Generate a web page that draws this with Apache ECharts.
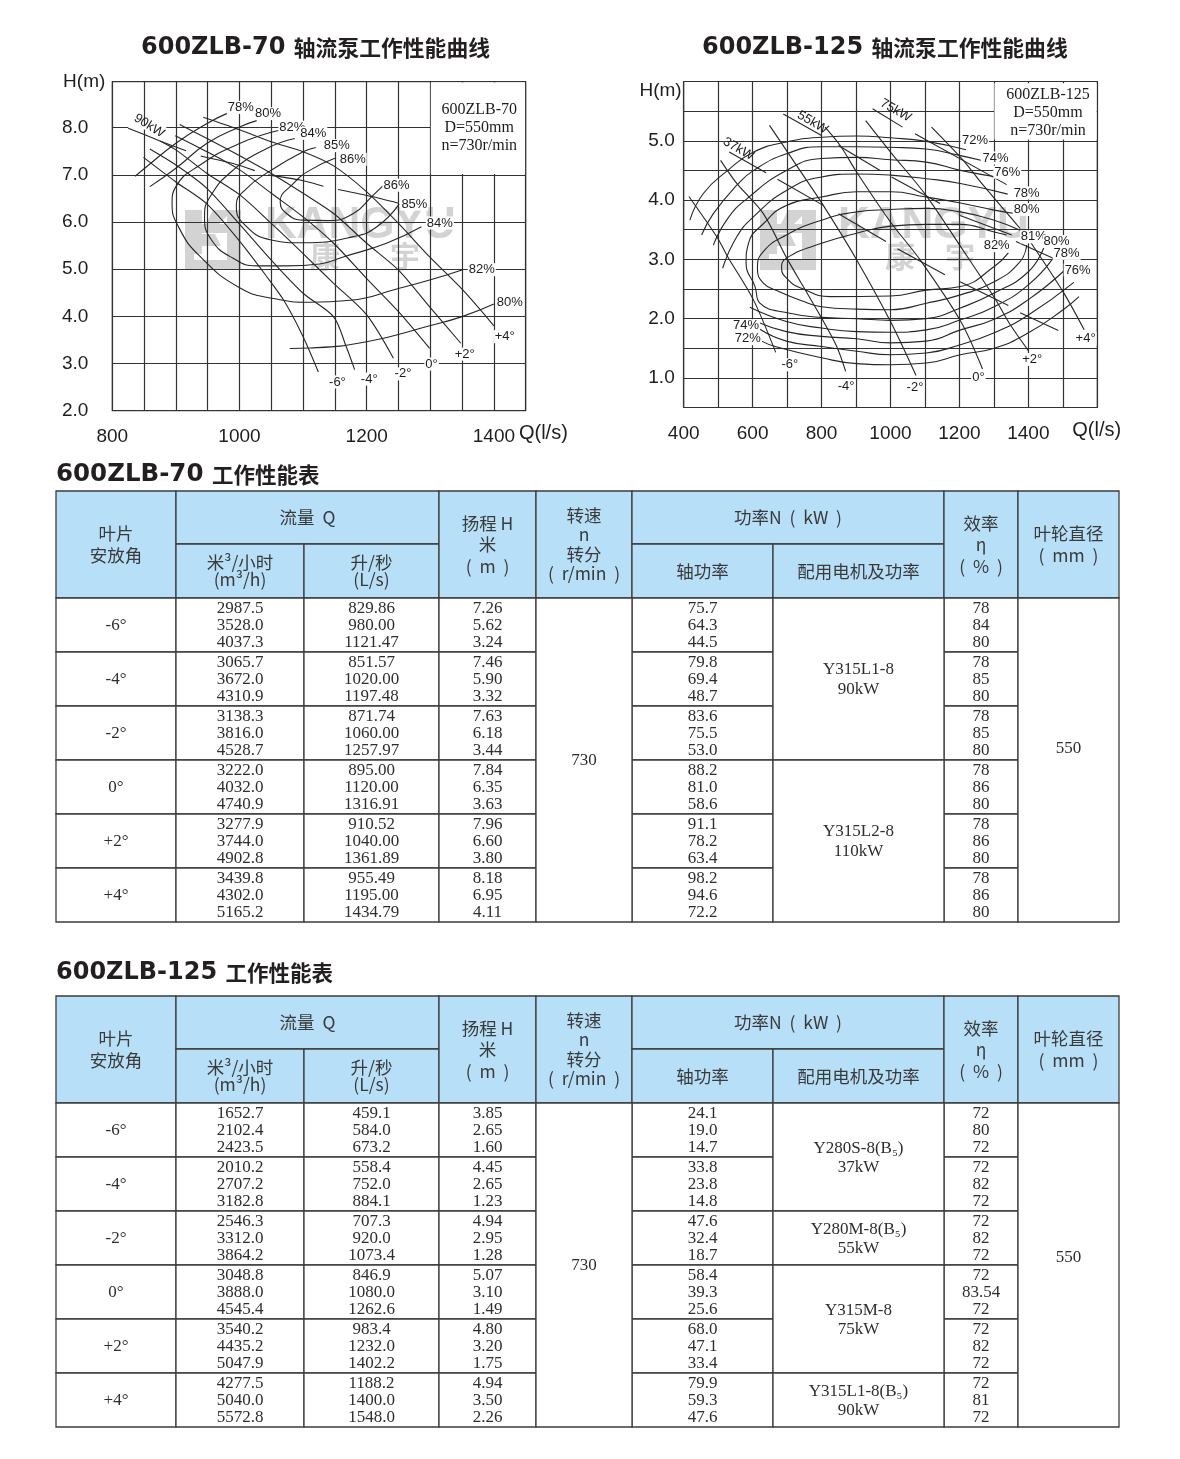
<!DOCTYPE html>
<html>
<head>
<meta charset="utf-8">
<style>html,body{margin:0;padding:0;background:#fff}#c{width:1180px;height:1459px}</style>
<script src="https://cdn.jsdelivr.net/npm/echarts@6/dist/echarts.min.js"></script>
</head>
<body>
<div id="c"></div>
<script>
// ---------- 600ZLB-70 curves: [Q l/s, H m] ----------
const a70m6 = [[849,7.37],[900,6.85],[949,6.38],[1001,5.58],[1043,4.84],[1071,4.31],[1100,3.57],[1124,2.82]];
const a70m4 = [[859,7.55],[900,7.21],[949,6.71],[1001,5.94],[1050,5.19],[1100,4.49],[1148,3.99],[1168,3.35],[1181,2.87]];
const a70m2 = [[875,7.72],[900,7.53],[949,7.03],[1001,6.57],[1050,5.97],[1100,5.33],[1148,4.70],[1200,4.03],[1242,3.11]];
const a70z0 = [[899,7.83],[949,7.49],[1001,7.10],[1050,6.61],[1100,6.11],[1148,5.55],[1200,4.80],[1250,4.10],[1299,3.32]];
const a70p2 = [[906,8.07],[949,7.77],[1001,7.40],[1050,7.03],[1100,6.61],[1148,6.18],[1200,5.55],[1250,4.98],[1299,4.20],[1348,3.43]];
const a70p4 = [[943,8.22],[1001,7.95],[1050,7.70],[1100,7.49],[1148,7.19],[1200,6.64],[1250,5.97],[1299,5.26],[1351,4.56],[1400,3.80]];
const e70_86 = [[1150,7.35],[1111,7.10],[1085,6.82],[1064,6.43],[1074,6.18],[1100,6.04],[1140,6.03],[1179,6.18],[1208,6.54],[1225,6.76]];
const e70_85 = [[1120,7.58],[1100,7.49],[1050,7.10],[1011,6.71],[995,6.36],[1006,5.97],[1050,5.62],[1100,5.56],[1179,5.69],[1216,5.90],[1251,6.38]];
const e70_84 = [[1087,7.77],[1043,7.56],[990,7.10],[954,6.54],[945,6.11],[956,5.62],[990,5.23],[1027,5.07],[1074,5.07],[1126,5.11],[1163,5.26],[1231,5.55],[1286,5.90]];
const e70_82 = [[1064,7.95],[1001,7.67],[938,7.21],[900,6.75],[894,6.40],[904,5.90],[938,5.27],[1001,4.60],[1053,4.38],[1111,4.30],[1174,4.34],[1250,4.59],[1299,4.77],[1351,4.99]];
const e70_80a = [[1027,8.15],[1001,8.02],[949,7.67],[900,7.14],[859,6.75]];
const e70_80b = [[1079,3.32],[1111,3.33],[1200,3.46],[1299,3.80],[1351,4.00],[1400,4.26]];
const e70_78 = [[985,8.33],[949,8.09],[900,7.67],[851,7.14],[836,6.97]];
const p70_90a = [[825,7.99],[875,7.72],[916,7.51]];
const p70_90b = [[939,7.40],[990,7.24],[1024,7.09]];
const p70_90c = [[1045,7.00],[1095,6.89],[1132,6.76]];
const p70_90d = [[1155,6.69],[1208,6.54],[1250,6.40]];
const labels70 = [[1002,8.43,'78%'],[1045,8.30,'80%'],[1083,8.01,'82%'],[1116,7.88,'84%'],[1153,7.62,'85%'],[1178,7.33,'86%'],
  [1247,6.78,'86%'],[1275,6.38,'85%'],[1315,5.98,'84%'],[1381,4.99,'82%'],[1425,4.29,'80%'],
  [1154,2.61,'-6°'],[1204,2.67,'-4°'],[1257,2.78,'-2°'],[1302,2.99,'0°'],[1354,3.20,'+2°'],[1417,3.57,'+4°']];
const tilted70 = [[858,8.04,'90kW']];
const note70 = [[1377,8.0,'600ZLB-70\nD=550mm\nn=730r/min']];
const mask70 = [[1300.8,7.02,1449,8.96],[825,7.96,885,8.04]];
const qTicks70 = [800,1000,1200,1400];
const hTicks70 = [2,3,4,5,6,7,8];

// ---------- 600ZLB-125 curves ----------
const a125m6 = [[415,4.06],[496,3.38],[528,3.04],[602,2.32],[667,1.43]];
const a125m4 = [[507,4.67],[554,4.28],[631,3.77],[699,3.02],[747,2.54],[800,2.01],[844,1.53],[870,1.11]];
const a125m2 = [[649,5.26],[737,4.50],[805,3.91],[902,2.99],[1000,1.95],[1074,1.04]];
const a125z0 = [[810,5.23],[854,4.92],[902,4.47],[1000,3.63],[1086,2.99],[1204,1.95],[1267,1.15]];
const a125p2 = [[928,5.34],[1000,4.81],[1103,4.08],[1204,3.21],[1303,2.34],[1347,1.90],[1400,1.46]];
const a125p4a = [[1119,5.23],[1211,4.67],[1269,4.25],[1376,3.52]];
const a125p4b = [[1405,3.30],[1503,2.43],[1562,1.81]];
const e125_72a = [[418,3.66],[457,4.11],[528,4.50],[603,4.81],[698,4.98],[800,5.06],[902,5.08],[1000,5.05],[1104,4.99],[1219,4.85]];
const e125_72b = [[626,1.62],[665,1.53],[800,1.34],[902,1.24],[1000,1.22],[1104,1.25],[1203,1.39],[1301,1.50],[1400,1.76],[1501,2.15],[1547,2.37]];
const e125_74a = [[452,3.41],[486,3.77],[554,4.25],[603,4.50],[698,4.78],[800,4.90],[902,4.90],[1000,4.89],[1104,4.86],[1203,4.75],[1262,4.67]];
const e125_74b = [[621,1.82],[698,1.62],[800,1.53],[902,1.45],[1000,1.39],[1104,1.42],[1203,1.56],[1301,1.76],[1400,2.06],[1532,2.61]];
const e125_76a = [[486,3.24],[528,3.69],[583,4.02],[698,4.50],[800,4.70],[902,4.72],[1000,4.68],[1104,4.64],[1203,4.50],[1308,4.39]];
const e125_76b = [[610,1.95],[698,1.78],[800,1.70],[902,1.66],[1000,1.59],[1104,1.62],[1203,1.81],[1301,1.99],[1400,2.32],[1506,2.82]];
const e125_78a = [[513,2.85],[554,3.38],[603,3.72],[698,4.16],[800,4.39],[902,4.44],[1000,4.42],[1104,4.36],[1203,4.28],[1340,4.10]];
const e125_78b = [[592,2.19],[698,1.95],[800,1.84],[902,1.78],[1000,1.77],[1104,1.81],[1203,1.98],[1301,2.20],[1400,2.57],[1472,3.02]];
const e125_80 = [[1366,3.77],[1301,3.83],[1203,3.95],[1104,4.05],[1000,4.14],[902,4.14],[800,4.05],[698,3.91],[631,3.60],[588,3.27],[581,2.93],[607,2.54],[621,2.26],[708,2.09],[800,2.02],[902,2.00],[1000,1.97],[1104,2.00],[1203,2.18],[1301,2.43],[1400,2.79],[1445,3.20]];
const e125_81 = [[1376,3.49],[1301,3.66],[1203,3.80],[1104,3.86],[1000,3.84],[902,3.80],[800,3.66],[698,3.41],[631,3.13],[614,2.85],[631,2.60],[679,2.45],[742,2.30],[800,2.20],[902,2.16],[1000,2.15],[1104,2.26],[1203,2.40],[1301,2.62],[1376,2.96],[1395,3.24]];
const e125_82 = [[1337,3.41],[1301,3.46],[1203,3.59],[1104,3.59],[1000,3.56],[902,3.44],[800,3.27],[698,3.02],[684,2.85],[704,2.65],[742,2.51],[825,2.37],[1000,2.38],[1104,2.48],[1203,2.54],[1301,2.88],[1342,3.11]];
const p125_37a = [[532,4.81],[639,4.46]];
const p125_37b = [[672,4.35],[805,3.91]];
const p125_37c = [[849,3.77],[987,3.30]];
const p125_37d = [[1020,3.18],[1158,2.74]];
const p125_37e = [[1202,2.62],[1342,2.22]];
const p125_37f = [[1376,2.10],[1487,1.80]];
const p125_55a = [[689,5.45],[800,5.09]];
const p125_55b = [[849,4.92],[970,4.50]];
const p125_55c = [[1003,4.39],[1144,3.94]];
const p125_55d = [[1202,3.74],[1352,3.41]];
const p125_55e = [[1364,3.30],[1472,3.02]];
const p125_75a = [[948,5.54],[1035,5.23]];
const p125_75b = [[1071,5.12],[1337,4.26]];
const labels125 = [[1245,5.00,'72%'],[1305,4.71,'74%'],[1339,4.47,'76%'],[1395,4.12,'78%'],[1395,3.84,'80%'],[1416,3.38,'81%'],
  [1482,3.30,'80%'],[1511,3.10,'78%'],[1543,2.82,'76%'],[1308,3.23,'82%'],[581,1.88,'74%'],[586,1.66,'72%'],
  [708,1.22,'-6°'],[871,0.85,'-4°'],[1071,0.84,'-2°'],[1255,1.00,'0°'],[1411,1.31,'+2°'],[1566,1.66,'+4°']];
const tilted125 = [[559,4.86,'37kW'],[774,5.31,'55kW'],[1015,5.51,'75kW']];
const note125 = [[1457,5.47,'600ZLB-125\nD=550mm\nn=730r/min']];
const mask125 = [[1301.5,5.02,1598,5.97]];
const qTicks125 = [400,600,800,1000,1200,1400];
const hTicks125 = [1,2,3,4,5];

// ---------- tables ----------
const angles = ['-6°','-4°','-2°','0°','+2°','+4°'];
const t70QM3 = [['2987.5','3528.0','4037.3'],['3065.7','3672.0','4310.9'],['3138.3','3816.0','4528.7'],['3222.0','4032.0','4740.9'],['3277.9','3744.0','4902.8'],['3439.8','4302.0','5165.2']];
const t70QLs = [['829.86','980.00','1121.47'],['851.57','1020.00','1197.48'],['871.74','1060.00','1257.97'],['895.00','1120.00','1316.91'],['910.52','1040.00','1361.89'],['955.49','1195.00','1434.79']];
const t70H = [['7.26','5.62','3.24'],['7.46','5.90','3.32'],['7.63','6.18','3.44'],['7.84','6.35','3.63'],['7.96','6.60','3.80'],['8.18','6.95','4.11']];
const t70N = [['75.7','64.3','44.5'],['79.8','69.4','48.7'],['83.6','75.5','53.0'],['88.2','81.0','58.6'],['91.1','78.2','63.4'],['98.2','94.6','72.2']];
const t70Eff = [['78','84','80'],['78','85','80'],['78','85','80'],['78','86','80'],['78','86','80'],['78','86','80']];
const t70Motors = [[0,3,'Y315L1-8\n90kW'],[3,6,'Y315L2-8\n110kW']];
const t125QM3 = [['1652.7','2102.4','2423.5'],['2010.2','2707.2','3182.8'],['2546.3','3312.0','3864.2'],['3048.8','3888.0','4545.4'],['3540.2','4435.2','5047.9'],['4277.5','5040.0','5572.8']];
const t125QLs = [['459.1','584.0','673.2'],['558.4','752.0','884.1'],['707.3','920.0','1073.4'],['846.9','1080.0','1262.6'],['983.4','1232.0','1402.2'],['1188.2','1400.0','1548.0']];
const t125H = [['3.85','2.65','1.60'],['4.45','2.65','1.23'],['4.94','2.95','1.28'],['5.07','3.10','1.49'],['4.80','3.20','1.75'],['4.94','3.50','2.26']];
const t125N = [['24.1','19.0','14.7'],['33.8','23.8','14.8'],['47.6','32.4','18.7'],['58.4','39.3','25.6'],['68.0','47.1','33.4'],['79.9','59.3','47.6']];
const t125Eff = [['72','80','72'],['72','82','72'],['72','82','72'],['72','83.54','72'],['72','82','72'],['72','81','72']];
const t125Motors = [[0,2,'Y280S-8(B₅)\n37kW'],[2,3,'Y280M-8(B₅)\n55kW'],[3,5,'Y315M-8\n75kW'],[5,6,'Y315L1-8(B₅)\n90kW']];
const speedText = '730';
const impellerText = '550';

// layout of tables (not data)
const colEdges = [0,120,248,383,480,576,717,888,962,1063];
const rowEdges = [0,53,107,161,215,269,323,377,431];
const HEAD = '#b7e0f8', LINE = '#3c3c3c', INK = '#2e2e2e';
const CJK = '"Noto Sans CJK SC","Noto Sans",sans-serif';
const SERIF = '"Liberation Serif",serif';
const SANS = '"Liberation Sans",sans-serif';

function buildCells(qm3, qls, h, n, eff, motors, implDy, motorLh) {
  const cells = [];
  const head = (c0,c1,r0,r1,text,lh) => cells.push({c0,c1,r0,r1,text,lh:lh||20,head:true,dy:0});
  head(0,1,0,2,'叶片\n安放角',22);
  head(1,3,0,1,'流量  Q');
  head(1,2,1,2,'米³/小时\n(m³/h)',17);
  head(2,3,1,2,'升/秒\n(L/s)',17);
  head(3,4,0,2,'扬程 H\n米\n(  m  )',21.5);
  head(4,5,0,2,'转速\nn\n转分\n(  r/min  )',19.5);
  head(5,7,0,1,'功率N  (  kW  )');
  head(5,6,1,2,'轴功率');
  head(6,7,1,2,'配用电机及功率');
  head(7,8,0,2,'效率\nη\n(  %  )',21.5);
  head(8,9,0,2,'叶轮直径\n(  mm  )',22);
  const body = (c0,c1,r0,r1,text,lh,dy) => cells.push({c0,c1,r0:r0+2,r1:r1+2,text,lh:lh||16.8,head:false,dy:dy===undefined?0.6:dy});
  angles.forEach((a,i) => {
    body(0,1,i,i+1,a);
    body(1,2,i,i+1,qm3[i].join('\n'));
    body(2,3,i,i+1,qls[i].join('\n'));
    body(3,4,i,i+1,h[i].join('\n'));
    body(5,6,i,i+1,n[i].join('\n'));
    body(7,8,i,i+1,eff[i].join('\n'));
  });
  body(4,5,0,6,speedText);
  motors.forEach(m => body(6,7,m[0],m[1],m[2],motorLh,1));
  body(8,9,0,6,impellerText,16.8,implDy);
  return cells;
}

function tableSeries(cells, idx) {
  return {
    type:'custom', name:'table'+idx, xAxisIndex:idx, yAxisIndex:idx, silent:true, clip:false, z:1,
    encode:{x:[0,2],y:[1,3]},
    data: cells.map((c,i) => [colEdges[c.c0],rowEdges[c.r0],colEdges[c.c1],rowEdges[c.r1],i]),
    renderItem:(p,api) => {
      const c = cells[api.value(4)];
      const a = api.coord([api.value(0),api.value(1)]);
      const b = api.coord([api.value(2),api.value(3)]);
      return {type:'group',children:[
        {type:'rect',shape:{x:a[0],y:a[1],width:b[0]-a[0],height:b[1]-a[1]},
         style:{fill:c.head?HEAD:'#fff',stroke:LINE,lineWidth:1.3}},
        {type:'text',z2:5,style:{text:c.text,x:(a[0]+b[0])/2,y:(a[1]+b[1])/2+c.dy,align:'center',verticalAlign:'middle',
          fontFamily:c.head?CJK:SERIF,fontSize:c.head?17.5:17,lineHeight:c.lh,fill:c.head?'#3a3a3a':INK}}
      ]};
    }
  };
}

function curve(name,data,g,smooth){
  return {type:'line',name,data,xAxisIndex:g,yAxisIndex:g,smooth:smooth,showSymbol:false,symbol:'none',silent:true,clip:false,z:3,
    lineStyle:{color:'#262626',width:1.1}};
}
function textMarks(name,rows,g,opt){
  return {type:'scatter',name,xAxisIndex:g,yAxisIndex:g,symbolSize:0,silent:true,clip:false,z:5,
    itemStyle:{opacity:1},
    data:rows.map(r=>({value:[r[0],r[1]],name:r[2]})),
    label:Object.assign({show:true,position:'inside',formatter:'{b}',color:'#1c1c1c',fontFamily:SANS,fontSize:13},opt)};
}
function masks(name,rows,g){
  return {type:'scatter',name,xAxisIndex:g,yAxisIndex:g,data:[],silent:true,z:2,
    markArea:{silent:true,z:2,itemStyle:{color:'#fff',opacity:1},data:rows.map(r=>[{coord:[r[0],r[1]]},{coord:[r[2],r[3]]}])}};
}
const axisFont = {fontFamily:SANS,fontSize:19,color:'#1e1e1e'};
const gridLine = {show:true,lineStyle:{color:'#333',width:1.2}};

function valueAxisX(min,max,interval,ticks,gap,labelMargin,gridIndex){
  return {type:'value',gridIndex,min,max,interval,axisLine:{show:false},axisTick:{show:false},splitLine:gridLine,
    axisLabel:Object.assign({},axisFont,{margin:labelMargin,formatter:v=>ticks.includes(v)?String(v):''}),
    name:'Q(l/s)',nameLocation:'end',nameGap:gap,nameTextStyle:Object.assign({},axisFont,{fontSize:20,verticalAlign:'top',padding:[13,0,0,0]})};
}
function valueAxisY(min,max,interval,ticks,labelMargin,gridIndex,valign,namePad){
  return {type:'value',gridIndex,min,max,interval,axisLine:{show:false},axisTick:{show:false},splitLine:gridLine,
    axisLabel:Object.assign({},axisFont,{margin:labelMargin,formatter:v=>ticks.includes(v)?v.toFixed(1):''}),
    name:'H(m)',nameLocation:'end',nameGap:0,nameTextStyle:Object.assign({},axisFont,{align:'right',verticalAlign:valign,padding:namePad})};
}
function tableAxisX(g){return {type:'value',gridIndex:g,min:0,max:1063,show:false};}
function tableAxisY(g){return {type:'value',gridIndex:g,min:0,max:431,inverse:true,show:false};}

function titleItem(left,top,latin,cjk,ls,cs){
  return {left,top,padding:0,text:'{a|'+latin+' }{b|'+cjk+'}',textStyle:{rich:{
    a:{fontFamily:'"DejaVu Sans"',fontWeight:'bold',fontSize:ls,color:'#231f20'},
    b:{fontFamily:CJK,fontWeight:'bold',fontSize:cs,color:'#231f20'}}}};
}

function watermark(x,y,kx,hanx1,hanx2){
  const c = '#d3d3d3';
  const r = (a,b,w,h)=>({type:'rect',x:x+a,y:y+b,shape:{x:0,y:0,width:w,height:h},style:{fill:c},z:-1});
  const poly = pts=>({type:'polygon',shape:{points:pts.map(p=>[x+p[0],y+p[1]])},style:{fill:c},z:-1});
  return [
    r(0,0,17,44), r(42,0,14,52), r(0,50,56,10), r(17,14,25,9), r(0,44,9,6),
    poly([[28,0],[42,0],[42,6],[26,22],[17,22]]), poly([[17,24],[30,24],[36,36],[17,36]]),
    {type:'text',x:kx,y:y+16,style:{text:'KANGYU',fill:c,fontFamily:SANS,fontWeight:'bold',fontSize:44,verticalAlign:'middle',align:'left'},z:-1},
    {type:'text',x:hanx1,y:y+46,style:{text:'康',fill:c,fontFamily:CJK,fontWeight:'bold',fontSize:30,verticalAlign:'middle',align:'left'},z:-1},
    {type:'text',x:hanx2,y:y+46,style:{text:'宇',fill:c,fontFamily:CJK,fontWeight:'bold',fontSize:30,verticalAlign:'middle',align:'left'},z:-1}
  ];
}

const cells70 = buildCells(t70QM3,t70QLs,t70H,t70N,t70Eff,t70Motors,-11,20);
const cells125 = buildCells(t125QM3,t125QLs,t125H,t125N,t125Eff,t125Motors,-7,19);

const series = [];
[a70m6,a70m4,a70m2,a70z0,a70p2,a70p4].forEach((d,i)=>series.push(curve('70 angle '+i,d,0,0.3)));
[e70_86,e70_85,e70_84,e70_82,e70_80a,e70_80b,e70_78].forEach((d,i)=>series.push(curve('70 eff '+i,d,0,0.5)));
[p70_90a,p70_90b,p70_90c,p70_90d].forEach((d,i)=>series.push(curve('70 power '+i,d,0,0.2)));
series.push(masks('70 mask',mask70,0));
series.push(textMarks('70 labels',labels70,0,{backgroundColor:'#fff',padding:[0,1]}));
series.push(textMarks('70 tilted',tilted70,0,{rotate:-32}));
series.push(textMarks('70 note',note70,0,{fontFamily:SERIF,fontSize:16,lineHeight:18}));

[a125m6,a125m4,a125m2,a125z0,a125p2,a125p4a,a125p4b].forEach((d,i)=>series.push(curve('125 angle '+i,d,1,0.3)));
[e125_72a,e125_72b,e125_74a,e125_74b,e125_76a,e125_76b,e125_78a,e125_78b,e125_80,e125_81,e125_82].forEach((d,i)=>series.push(curve('125 eff '+i,d,1,0.5)));
[p125_37a,p125_37b,p125_37c,p125_37d,p125_37e,p125_37f,p125_55a,p125_55b,p125_55c,p125_55d,p125_55e,p125_75a,p125_75b].forEach((d,i)=>series.push(curve('125 power '+i,d,1,false)));
series.push(masks('125 mask',mask125,1));
series.push(textMarks('125 labels',labels125,1,{backgroundColor:'#fff',padding:[0,1]}));
series.push(textMarks('125 tilted',tilted125,1,{rotate:-30}));
series.push(textMarks('125 note',note125,1,{fontFamily:SERIF,fontSize:16,lineHeight:18}));

series.push(tableSeries(cells70,2));
series.push(tableSeries(cells125,3));

const chart = echarts.init(document.getElementById('c'),null,{width:1180,height:1459,renderer:'canvas'});
chart.setOption({
  animation:false,
  backgroundColor:'#fff',
  title:[
    titleItem(141,36,'600ZLB-70','轴流泵工作性能曲线',24,21.8),
    titleItem(702,36,'600ZLB-125','轴流泵工作性能曲线',24,21.8),
    titleItem(56,462,'600ZLB-70','工作性能表',24.5,21.5),
    titleItem(56,961,'600ZLB-125','工作性能表',24,21.5)
  ],
  grid:[
    {left:112.3,top:81.7,width:413.4,height:329,show:true,borderColor:'#444',borderWidth:1.2,backgroundColor:'transparent'},
    {left:683.7,top:81.5,width:413.6,height:326,show:true,borderColor:'#444',borderWidth:1.2,backgroundColor:'transparent'},
    {left:56,top:491,width:1063,height:431},
    {left:56,top:996,width:1063,height:431}
  ],
  xAxis:[
    valueAxisX(800,1450,50,qTicks70,-10,17,0),
    valueAxisX(400,1600,100,qTicks125,-25,17,1),
    tableAxisX(2),tableAxisX(3)
  ],
  yAxis:[
    valueAxisY(2,8.975,1,hTicks70,24,0,'middle',[0,7,0,0]),
    valueAxisY(0.5,6,0.5,hTicks125,9,1,'top',[0,2,0,0]),
    tableAxisY(2),tableAxisY(3)
  ],
  graphic:{elements:[...watermark(185,210,265,310,390),...watermark(760,210,838,885,945)]},
  series
});
</script>
</body>
</html>
